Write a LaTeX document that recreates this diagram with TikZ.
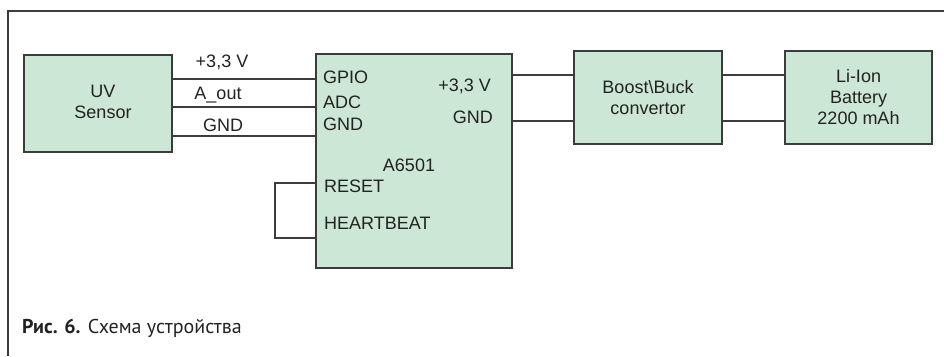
\documentclass[tikz,border=0pt]{standalone}
\usepackage{fontspec}
\setmainfont{Liberation Sans}
\newfontfamily\capfont{PT Sans}
\definecolor{boxfill}{HTML}{CDE7D6}
\definecolor{edge}{HTML}{3C3C3C}
\definecolor{txt}{HTML}{222222}
\begin{document}
\begin{tikzpicture}[x=1pt,y=-1pt,
  blk/.style={draw=edge, line width=1.4pt, fill=boxfill, inner sep=0pt, align=center,
     font=\fontsize{18}{21}\selectfont, text=txt},
  wire/.style={draw=edge, line width=1.3pt},
  lbl/.style={inner sep=0pt, font=\fontsize{18}{21}\selectfont, text=txt},
  lblw/.style={lbl, anchor=west},
  lble/.style={lbl, anchor=east}]
\useasboundingbox (0,0) rectangle (944,356);
\draw[draw=edge, line width=1.6pt] (944,11) -- (8,11) -- (8,356);
% blocks
\node[blk, minimum width=148pt, minimum height=97pt] (uv) at (98,103.5) {\phantom{x}};
\node[lbl, align=center] (uvt) at (103,102) {UV\\Sensor};
\node[blk, minimum width=196pt, minimum height=214pt] (mcu) at (414,161) {};
\node[blk, minimum width=148pt, minimum height=93pt] (boost) at (648,97.5) {Boost\textbackslash Buck\\convertor};
\node[blk, minimum width=147pt, minimum height=93pt] (bat) at (858.5,97.5) {Li-Ion\\Battery\\2200 mAh};
% MCU labels
\node[lblw] (gpio) at (323,77) {GPIO};
\node[lblw] (adc) at (323,102) {ADC};
\node[lblw] (gndl) at (323,124) {GND};
\node[lblw] (rst) at (324,186) {RESET};
\node[lblw] (hb) at (324,223) {HEARTBEAT};
\node[lble] (vr) at (491,86) {+3,3 V};
\node[lble] (gndr) at (493,117) {GND};
\node[lbl] (name) at (409,165) {A6501};
% wires UV -> MCU
\draw[wire] (uv.east |- 0,79) -- (mcu.west |- 0,79);
\draw[wire] (uv.east |- 0,107) -- (mcu.west |- 0,107);
\draw[wire] (uv.east |- 0,136) -- (mcu.west |- 0,136);
\node[lbl] (w1) at (222,62) {+3,3 V};
\node[lbl] (w2) at (218,95) {A\_out};
\node[lbl] (w3) at (223,125) {GND};
% MCU -> boost -> battery
\draw[wire] (mcu.east |- 0,75) -- (boost.west |- 0,75);
\draw[wire] (mcu.east |- 0,121) -- (boost.west |- 0,121);
\draw[wire] (boost.east |- 0,75) -- (bat.west |- 0,75);
\draw[wire] (boost.east |- 0,121) -- (bat.west |- 0,121);
% reset loop
\coordinate (l1) at (275,183);
\coordinate (l2) at (275,238);
\draw[wire, line width=1.1pt] (mcu.west |- l1) -- (l1) -- (l2) -- (mcu.west |- l2);
% caption
\node[anchor=west, inner sep=0pt, text=txt, font=\capfont\fontsize{20}{24}\selectfont] (cap) at (22,328) {\textbf{Рис. 6.} Схема устройства};
\end{tikzpicture}
\end{document}
